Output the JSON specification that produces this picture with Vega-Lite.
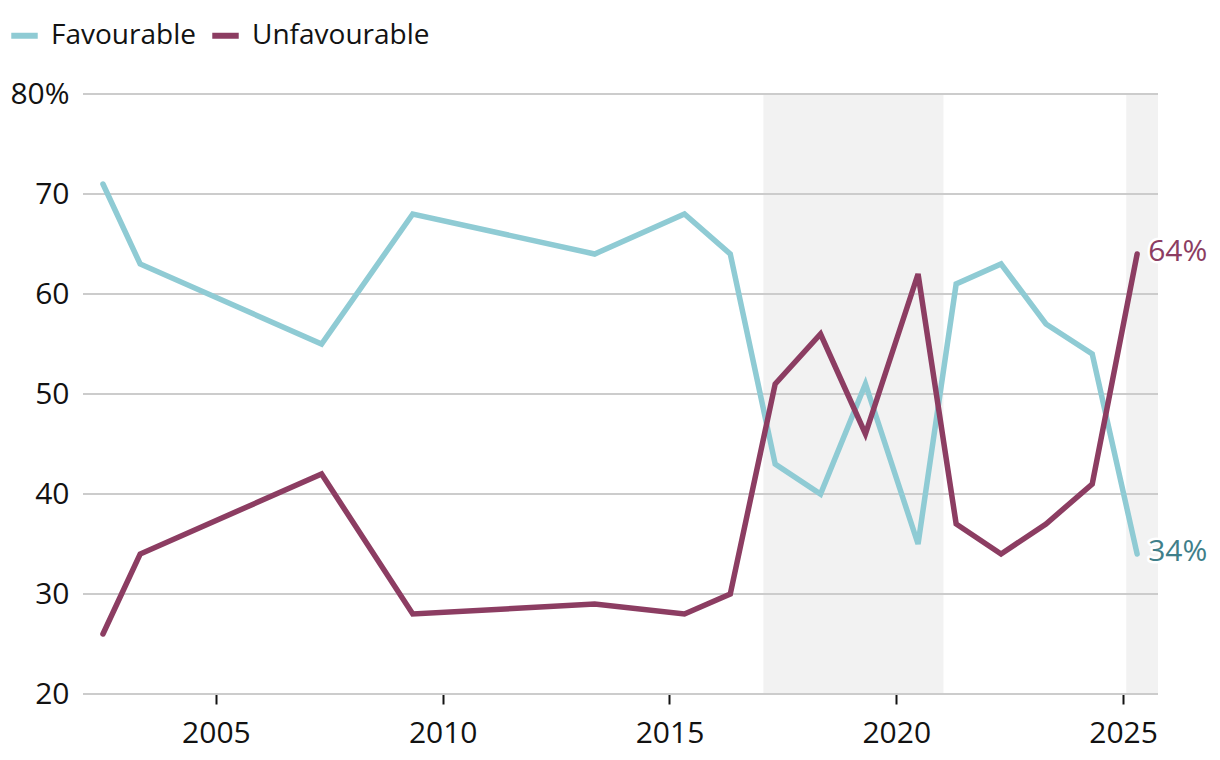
{
  "$schema": "https://vega.github.io/schema/vega-lite/v6.json",
  "width": 1075,
  "height": 600,
  "autosize": "none",
  "padding": {"left": 83, "top": 94, "right": 62, "bottom": 66},
  "background": "white",
  "config": {
    "view": {"stroke": null},
    "font": "Open Sans",
    "axis": {"labelFont": "Open Sans", "labelFontSize": 30, "labelColor": "#121212", "labelFontWeight": 500},
    "legend": {"labelFont": "Open Sans"}
  },
  "datasets": {
    "series": [
      {"year": 2002.51, "series": "Favourable", "value": 71},
      {"year": 2003.33, "series": "Favourable", "value": 63},
      {"year": 2007.33, "series": "Favourable", "value": 55},
      {"year": 2009.34, "series": "Favourable", "value": 68},
      {"year": 2013.35, "series": "Favourable", "value": 64},
      {"year": 2015.33, "series": "Favourable", "value": 68},
      {"year": 2016.34, "series": "Favourable", "value": 64},
      {"year": 2017.33, "series": "Favourable", "value": 43},
      {"year": 2018.33, "series": "Favourable", "value": 40},
      {"year": 2019.32, "series": "Favourable", "value": 51},
      {"year": 2020.48, "series": "Favourable", "value": 35},
      {"year": 2021.32, "series": "Favourable", "value": 61},
      {"year": 2022.31, "series": "Favourable", "value": 63},
      {"year": 2023.30, "series": "Favourable", "value": 57},
      {"year": 2024.32, "series": "Favourable", "value": 54},
      {"year": 2025.31, "series": "Favourable", "value": 34, "label": "34%"},
      {"year": 2002.51, "series": "Unfavourable", "value": 26},
      {"year": 2003.33, "series": "Unfavourable", "value": 34},
      {"year": 2007.33, "series": "Unfavourable", "value": 42},
      {"year": 2009.34, "series": "Unfavourable", "value": 28},
      {"year": 2013.35, "series": "Unfavourable", "value": 29},
      {"year": 2015.33, "series": "Unfavourable", "value": 28},
      {"year": 2016.34, "series": "Unfavourable", "value": 30},
      {"year": 2017.33, "series": "Unfavourable", "value": 51},
      {"year": 2018.33, "series": "Unfavourable", "value": 56},
      {"year": 2019.32, "series": "Unfavourable", "value": 46},
      {"year": 2020.48, "series": "Unfavourable", "value": 62},
      {"year": 2021.32, "series": "Unfavourable", "value": 37},
      {"year": 2022.31, "series": "Unfavourable", "value": 34},
      {"year": 2023.30, "series": "Unfavourable", "value": 37},
      {"year": 2024.32, "series": "Unfavourable", "value": 41},
      {"year": 2025.31, "series": "Unfavourable", "value": 64, "label": "64%"}
    ],
    "shade": [
      {"start": 2017.07, "end": 2021.04},
      {"start": 2025.07, "end": 2025.77}
    ],
    "grid": [
      {"g": 20}, {"g": 30}, {"g": 40}, {"g": 50}, {"g": 60}, {"g": 70}, {"g": 80}
    ]
  },
  "layer": [
    {
      "data": {"name": "shade"},
      "mark": {"type": "rect", "color": "#f2f2f2"},
      "encoding": {
        "x": {"field": "start", "type": "quantitative", "scale": {"domain": [2002.07, 2025.77], "nice": false, "zero": false}},
        "x2": {"field": "end"},
        "y": {"datum": 20, "type": "quantitative", "scale": {"domain": [20, 80], "nice": false, "zero": false}},
        "y2": {"datum": 80}
      }
    },
    {
      "data": {"name": "grid"},
      "mark": {"type": "rule", "color": "#cccccc", "strokeWidth": 2},
      "encoding": {
        "y": {"field": "g", "type": "quantitative"}
      }
    },
    {
      "data": {"name": "series"},
      "mark": {"type": "line", "strokeWidth": 5.5, "strokeCap": "round", "strokeJoin": "miter"},
      "encoding": {
        "x": {
          "field": "year", "type": "quantitative",
          "axis": {
            "values": [2005, 2010, 2015, 2020, 2025], "format": "d", "title": null,
            "domain": false, "grid": false, "ticks": true, "tickColor": "#121212",
            "tickWidth": 2, "tickSize": 10, "labelPadding": 14
          }
        },
        "y": {
          "field": "value", "type": "quantitative",
          "axis": {
            "values": [20, 30, 40, 50, 60, 70, 80], "title": null, "domain": false,
            "grid": false, "ticks": false, "labelPadding": 14,
            "labelExpr": "datum.value == 80 ? '80%' : datum.label"
          }
        },
        "color": {
          "field": "series", "type": "nominal",
          "scale": {"domain": ["Favourable", "Unfavourable"], "range": ["#8fcbd4", "#8c3d62"]},
          "legend": {
            "title": null, "orient": "none", "legendX": -75, "legendY": -75,
            "direction": "horizontal", "symbolType": "stroke", "symbolStrokeWidth": 6,
            "symbolSize": 700, "labelFontSize": 28, "labelFontWeight": 500, "labelColor": "#121212",
            "labelOffset": 10, "columnPadding": 4, "labelLimit": 0
          }
        }
      }
    },
    {
      "data": {"name": "series"},
      "transform": [{"filter": "datum.label != null"}],
      "mark": {"type": "text", "align": "left", "baseline": "middle", "dx": 11, "dy": -2, "fontSize": 30, "fontWeight": 500, "stroke": "white", "strokeWidth": 5, "strokeJoin": "round"},
      "encoding": {
        "x": {"field": "year", "type": "quantitative"},
        "y": {"field": "value", "type": "quantitative"},
        "text": {"field": "label"}
      }
    },
    {
      "data": {"name": "series"},
      "transform": [{"filter": "datum.label != null"}],
      "mark": {"type": "text", "align": "left", "baseline": "middle", "dx": 11, "dy": -2, "fontSize": 30, "fontWeight": 500},
      "encoding": {
        "x": {"field": "year", "type": "quantitative"},
        "y": {"field": "value", "type": "quantitative"},
        "text": {"field": "label"},
        "color": {
          "field": "series", "type": "nominal",
          "scale": {"domain": ["Favourable", "Unfavourable"], "range": ["#8fcbd4", "#8c3d62"]},
          "legend": null
        },
        "fill": {
          "field": "series", "type": "nominal",
          "scale": {"domain": ["Favourable", "Unfavourable"], "range": ["#3f7f8a", "#8c3d62"]},
          "legend": null
        }
      }
    }
  ]
}
